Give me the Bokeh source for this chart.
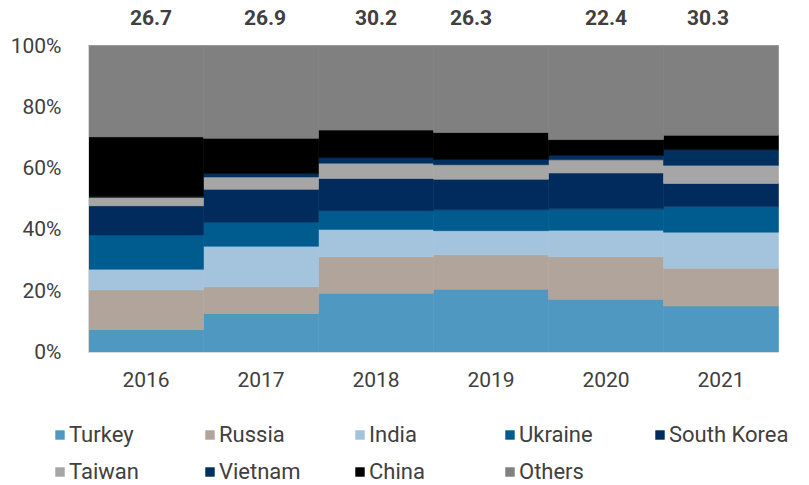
from bokeh.plotting import figure
from bokeh.models import (ColumnDataSource, Range1d, Legend, LegendItem,
                          PrintfTickFormatter, FixedTicker)
from bokeh.core.properties import value
from bokeh.embed import file_html
from bokeh.resources import INLINE

years = ["2016", "2017", "2018", "2019", "2020", "2021"]
series_names = ["Turkey", "Russia", "India", "Ukraine", "South Korea",
                "Taiwan", "Vietnam", "China", "Others"]
turkey      = [7.3, 12.6, 19.2, 20.5, 17.2, 15.0]
russia      = [13.0, 8.7, 11.9, 11.2, 13.9, 12.3]
india       = [6.7, 13.2, 8.9, 7.9, 8.6, 11.8]
ukraine     = [11.2, 7.9, 6.1, 6.8, 7.0, 8.4]
south_korea = [9.5, 10.7, 10.5, 10.0, 11.7, 7.5]
taiwan      = [2.7, 4.0, 5.0, 4.7, 4.3, 5.9]
vietnam     = [0.3, 1.1, 1.8, 1.7, 1.4, 5.1]
china       = [19.5, 11.5, 9.0, 8.8, 5.2, 4.7]
others      = [29.8, 30.3, 27.6, 28.4, 30.7, 29.3]
totals      = [26.7, 26.9, 30.2, 26.3, 22.4, 30.3]
y_ticks     = [0, 20, 40, 60, 80, 100]

colors = ["#4f98c2", "#b1a59b", "#a3c4dc", "#005b8f", "#002b5c",
          "#a6a6a6", "#00305f", "#000000", "#808080"]
label_dx = [5, 4, 0, -20, 0, -13]

FONT = "Roboto"
TXT = "#404040"
W, H = 805, 484
PX_PER_CAT = 115.0      # bar slot width in pixels
LEFT_PX = 88.0          # left edge of first bar
PX_PER_PCT = 3.065
ZERO_PX = 351.5         # y pixel of 0%

keys = ["turkey", "russia", "india", "ukraine", "south_korea",
        "taiwan", "vietnam", "china", "others"]
vals = [turkey, russia, india, ukraine, south_korea, taiwan, vietnam, china, others]
idx = list(range(len(years)))
data = dict(x=idx)
for k, v in zip(keys, vals):
    data[k] = v
source = ColumnDataSource(data)

x0 = -0.5 - LEFT_PX / PX_PER_CAT
y1 = ZERO_PX / PX_PER_PCT
y0 = -(H - ZERO_PX) / PX_PER_PCT

p = figure(x_range=Range1d(x0, x0 + W / PX_PER_CAT), y_range=Range1d(y0, y1),
           width=W, height=H, output_backend="svg", toolbar_location=None, title=None,
           min_border_left=0, min_border_right=0, min_border_top=0, min_border_bottom=0)
p.outline_line_color = None
p.xgrid.visible = False
p.ygrid.visible = False
p.background_fill_color = "white"

renderers = p.vbar_stack(keys, x="x", width=1.0, source=source,
                         fill_color=colors, line_color=colors, line_width=0.6)

# top labels
tops = [sum(col) for col in zip(*vals)]
lsrc = ColumnDataSource(dict(x=idx, top=tops, label=[f"{t:.1f}" for t in totals], dx=label_dx))
p.text(x="x", y="top", text="label", source=lsrc, x_offset="dx", y_offset=-28,
       text_font=value(FONT), text_font_style="bold", text_font_size="21px",
       text_color=TXT, text_align="center", text_baseline="middle")

for ax in (p.xaxis[0], p.yaxis[0]):
    ax.axis_line_color = "#d9d9d9"
    ax.axis_line_width = 1
    ax.major_tick_line_color = None
    ax.minor_tick_line_color = None
    ax.major_label_text_font = FONT
    ax.major_label_text_font_size = "21px"
    ax.major_label_text_color = TXT

xa = p.xaxis[0]
xa.fixed_location = 0
xa.bounds = (-0.5, len(years) - 0.5)
xa.ticker = FixedTicker(ticks=idx)
xa.major_label_overrides = {i: y for i, y in zip(idx, years)}
xa.major_label_standoff = 14

ya = p.yaxis[0]
ya.fixed_location = -0.5
ya.bounds = (0, 100)
ya.ticker = FixedTicker(ticks=y_ticks)
ya.formatter = PrintfTickFormatter(format="%d%%")
ya.major_label_standoff = 21

legend = Legend(items=[LegendItem(label=n, renderers=[r]) for n, r in zip(series_names, renderers)],
                location=(54, 0), orientation="horizontal", ncols=5,
                glyph_width=11, glyph_height=11, label_standoff=4,
                label_width=123, label_height=20, spacing=12,
                padding=0, margin=0, border_line_color=None,
                background_fill_alpha=0,
                label_text_font=FONT, label_text_font_size="22px",
                label_text_color=TXT)
p.add_layout(legend, "center")

open("out.html", "w").write(file_html(p, INLINE))
